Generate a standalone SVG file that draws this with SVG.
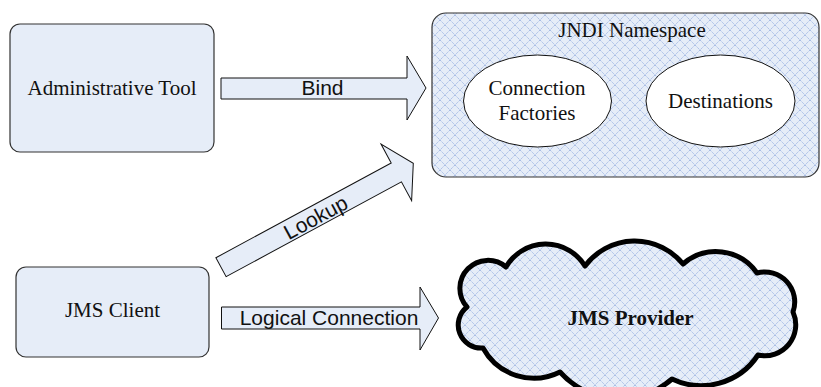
<svg xmlns="http://www.w3.org/2000/svg" width="821" height="387" viewBox="0 0 821 387">
  <style>
    .box { fill: #e6edf8; stroke: #333; stroke-width: 1.2; }
    .hatch { fill: url(#crosshatch); }
    .arrow { fill: #e6edf8; stroke: #111; stroke-width: 1; stroke-linejoin: miter; }
    .serif { font-family: "Liberation Serif", "Times New Roman", serif; font-size: 21px; fill: #111; text-anchor: middle; }
    .sans { font-family: "Liberation Sans", Arial, sans-serif; font-size: 21px; fill: #111; text-anchor: middle; }
    .bold { font-weight: bold; }
  </style>
  <defs>
    <!-- light blue diagonal cross-hatch used for the namespace and the provider cloud -->
    <pattern id="crosshatch" width="10" height="10" patternUnits="userSpaceOnUse">
      <rect width="10" height="10" fill="#e6edf8"/>
      <path d="M0,0 L10,10 M10,0 L0,10" stroke="#a8bde6" stroke-width="1" stroke-dasharray="1.6,0.7"/>
    </pattern>
  </defs>

  <g id="admin-tool">
    <rect class="box" x="10" y="24" width="204" height="128" rx="10" ry="10"/>
    <text class="serif" x="112" y="95">Administrative Tool</text>
  </g>

  <g id="jndi-namespace">
    <rect class="hatch" x="432" y="13" width="387" height="164" rx="14" ry="14" stroke="#333" stroke-width="1.2"/>
    <text class="serif" x="632" y="37">JNDI Namespace</text>
    <g id="connection-factories">
      <ellipse cx="537.5" cy="101" rx="74" ry="46" fill="#fff" stroke="#111" stroke-width="1"/>
      <text class="serif" x="537" y="95">Connection</text>
      <text class="serif" x="537" y="120">Factories</text>
    </g>
    <g id="destinations">
      <ellipse cx="720.5" cy="101" rx="74.5" ry="46" fill="#fff" stroke="#111" stroke-width="1"/>
      <text class="serif" x="720.5" y="108">Destinations</text>
    </g>
  </g>

  <g id="jms-client">
    <rect class="box" x="16" y="267" width="193" height="90" rx="10" ry="10"/>
    <text class="serif" x="112.5" y="317">JMS Client</text>
  </g>

  <g id="jms-provider">
    <path class="hatch" stroke="#000" stroke-width="5" stroke-linejoin="round"
      d="M467,307
         A28,28 0 0 1 506,267
         A46,46 0 0 1 585,266
         A62,62 0 0 1 683,264
         A50,50 0 0 1 757,273
         A30,30 0 0 1 793,312
         A31,31 0 0 1 758,355
         A68,68 0 0 1 672,379
         A80,80 0 0 1 560,372
         A58,58 0 0 1 483,348
         A23,23 0 0 1 467,307 Z"/>
    <text class="serif bold" x="630.5" y="325">JMS Provider</text>
  </g>

  <g id="connectors">
    <g id="bind">
      <polygon class="arrow" points="221,78 407,78 407,56 426,88 407,120 407,99 221,99"/>
      <text class="sans" x="322.5" y="95">Bind</text>
    </g>
    <g id="lookup" transform="translate(221,267.2) rotate(-28.4)">
      <polygon class="arrow" points="0,-10.75 199.3,-10.75 199.3,-32.2 218.6,0 199.3,32.2 199.3,10.75 0,10.75"/>
      <text class="sans" x="107" y="8.5">Lookup</text>
    </g>
    <g id="logical-connection">
      <polygon class="arrow" points="221.5,307 420,307 420,287 438.5,318 420,350 420,329 221.5,329"/>
      <text class="sans" x="329" y="325">Logical Connection</text>
    </g>
  </g>
</svg>
